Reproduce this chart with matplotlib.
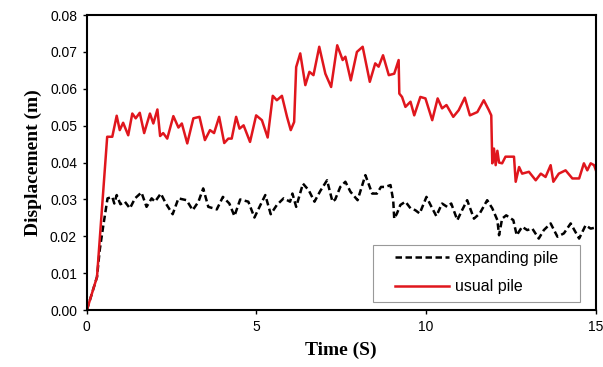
import matplotlib
matplotlib.use("Agg")
import matplotlib.pyplot as plt
from matplotlib.patches import Rectangle

# usual pile (red, solid)
usual_t = [0.0, 0.30, 0.60, 0.75, 0.88, 0.97, 1.07, 1.22, 1.34, 1.44, 1.56, 1.69, 1.86, 1.96, 2.08, 2.16,
           2.25, 2.37, 2.55, 2.70, 2.80, 2.96, 3.14, 3.32, 3.48, 3.63, 3.75, 3.90, 4.05, 4.17, 4.27, 4.40,
           4.50, 4.62, 4.81, 4.99, 5.16, 5.33, 5.48, 5.60, 5.75, 5.90, 6.01, 6.11, 6.17, 6.29, 6.44, 6.56,
           6.68, 6.85, 7.03, 7.20, 7.38, 7.54, 7.62, 7.78, 7.96, 8.13, 8.34, 8.50, 8.60, 8.73, 8.90, 9.06,
           9.19, 9.21, 9.29, 9.39, 9.54, 9.65, 9.83, 9.98, 10.18, 10.34, 10.47, 10.60, 10.80, 10.96, 11.14,
           11.29, 11.51, 11.70, 11.85, 11.92, 11.95, 12.00, 12.05, 12.10, 12.15, 12.24, 12.34, 12.49, 12.59,
           12.64, 12.74, 12.83, 13.03, 13.23, 13.38, 13.52, 13.67, 13.75, 13.91, 14.11, 14.31, 14.51, 14.65,
           14.75, 14.85, 14.95, 15.0]
usual_d = [0.0, 0.009, 0.047, 0.047, 0.0527, 0.0488, 0.0508, 0.0474, 0.0533, 0.052, 0.0535, 0.048, 0.0533,
           0.0506, 0.0544, 0.0472, 0.048, 0.0465, 0.0526, 0.0495, 0.0506, 0.0452, 0.052, 0.0524, 0.0461,
           0.0488, 0.048, 0.0524, 0.0453, 0.0465, 0.0465, 0.0524, 0.0492, 0.0501, 0.0456, 0.0528, 0.0515,
           0.0468, 0.0581, 0.0569, 0.0581, 0.0524, 0.0488, 0.051, 0.0659, 0.0696, 0.061, 0.0646, 0.0637,
           0.0714, 0.0641, 0.0605, 0.0718, 0.0678, 0.0687, 0.0623, 0.070, 0.0714, 0.0619, 0.0669, 0.066,
           0.0691, 0.0637, 0.0641, 0.0678, 0.0587, 0.0578, 0.0551, 0.0565, 0.0528, 0.0578, 0.0574, 0.0515,
           0.0574, 0.0547, 0.0556, 0.0524, 0.0542, 0.0576, 0.0528, 0.0537, 0.0569, 0.0542, 0.0528, 0.0398,
           0.0438, 0.0393, 0.0432, 0.0400, 0.0398, 0.0416, 0.0416, 0.0416, 0.0348, 0.0388, 0.037, 0.0375,
           0.0352, 0.037, 0.0361, 0.0393, 0.0348, 0.037, 0.0379, 0.0357, 0.0357, 0.0398, 0.0379, 0.0398,
           0.0393, 0.038]

# expanding pile (black, dashed)
exp_t = [0.0, 0.30, 0.38, 0.48, 0.61, 0.75, 0.81, 0.88, 0.99, 1.12, 1.27, 1.42, 1.61, 1.76, 1.91, 2.01,
         2.18, 2.33, 2.53, 2.70, 2.94, 3.12, 3.29, 3.43, 3.58, 3.73, 3.83, 4.01, 4.20, 4.35, 4.52, 4.76,
         4.94, 5.09, 5.26, 5.42, 5.60, 5.80, 5.99, 6.06, 6.17, 6.37, 6.54, 6.71, 6.88, 7.08, 7.24, 7.32,
         7.47, 7.62, 7.77, 7.98, 8.21, 8.41, 8.55, 8.67, 8.80, 8.95, 9.03, 9.06, 9.14, 9.24, 9.39, 9.54,
         9.68, 9.81, 10.01, 10.13, 10.30, 10.47, 10.62, 10.74, 10.92, 11.06, 11.21, 11.41, 11.58, 11.80,
         11.95, 12.10, 12.15, 12.24, 12.36, 12.57, 12.67, 12.83, 12.98, 13.13, 13.32, 13.47, 13.67, 13.87,
         14.06, 14.26, 14.51, 14.70, 14.85, 15.0]
exp_d = [0.0, 0.009, 0.0163, 0.0226, 0.0303, 0.0307, 0.0289, 0.0312, 0.0287, 0.0294, 0.0276, 0.0303,
         0.0319, 0.028, 0.0303, 0.0294, 0.0316, 0.0289, 0.026, 0.0303, 0.0298, 0.0271, 0.0294, 0.033,
         0.028, 0.0276, 0.0273, 0.0307, 0.0289, 0.0255, 0.030, 0.0294, 0.0251, 0.028, 0.0312, 0.026,
         0.0285, 0.0303, 0.0294, 0.0316, 0.028, 0.0343, 0.0325, 0.0294, 0.0323, 0.0352, 0.0294, 0.0300,
         0.0334, 0.0348, 0.0321, 0.0298, 0.0366, 0.0316, 0.0316, 0.0334, 0.0334, 0.0339, 0.0298, 0.0248,
         0.0262, 0.0285, 0.0294, 0.0276, 0.0271, 0.0262, 0.0307, 0.0285, 0.0255, 0.0289, 0.028, 0.0289,
         0.0244, 0.0271, 0.0298, 0.0248, 0.0262, 0.0298, 0.0276, 0.0244, 0.0203, 0.0248, 0.0257, 0.0244,
         0.0203, 0.0226, 0.0217, 0.0221, 0.0194, 0.0217, 0.0235, 0.0199, 0.0208, 0.0235, 0.0194, 0.023,
         0.0221, 0.0224]

x_ticks = [0, 5, 10, 15]
y_ticks = [0.00, 0.01, 0.02, 0.03, 0.04, 0.05, 0.06, 0.07, 0.08]

fig = plt.figure(figsize=(6.03, 3.67), dpi=100)
ax = fig.add_axes([0.144, 0.155, 0.844, 0.804])

ax.plot(exp_t, exp_d, color="black", linestyle=(0, (2.6, 1.4)), linewidth=1.8,
        dash_joinstyle="round", label="expanding pile")
ax.plot(usual_t, usual_d, color="#e0161d", linewidth=1.8, solid_joinstyle="round",
        label="usual pile")

ax.set_xlim(0, 15)
ax.set_ylim(0, 0.08)
ax.set_xticks(x_ticks)
ax.set_xticklabels([str(v) for v in x_ticks])
ax.set_yticks(y_ticks)
ax.set_yticklabels([f"{v:.2f}" for v in y_ticks])

tick_font = "Liberation Sans"
for lab in ax.get_xticklabels() + ax.get_yticklabels():
    lab.set_fontfamily(tick_font)
    lab.set_fontsize(10)

ax.tick_params(axis="both", direction="out", length=3, width=1, pad=4)
for s in ax.spines.values():
    s.set_linewidth(1.5)
    s.set_color("black")

ax.set_xlabel("Time (S)", fontfamily="Liberation Serif", fontweight="bold", fontsize=14, labelpad=6)
ax.set_ylabel("Displacement (m)", fontfamily="Liberation Serif", fontweight="bold", fontsize=14, labelpad=6)

# legend frame drawn separately, legend content placed inside
ax.add_patch(Rectangle((0.562, 0.027), 0.407, 0.193, transform=ax.transAxes,
                       facecolor="white", edgecolor="#999999", linewidth=0.8, zorder=4))
leg = ax.legend(loc="center left", bbox_to_anchor=(0.605, 0.128),
                prop={"family": "Liberation Sans", "size": 11.5}, frameon=False,
                handlelength=3.4, handletextpad=0.4, borderaxespad=0, borderpad=0,
                labelspacing=0.85)
leg.set_zorder(5)

fig.savefig("out.png", dpi=100)
